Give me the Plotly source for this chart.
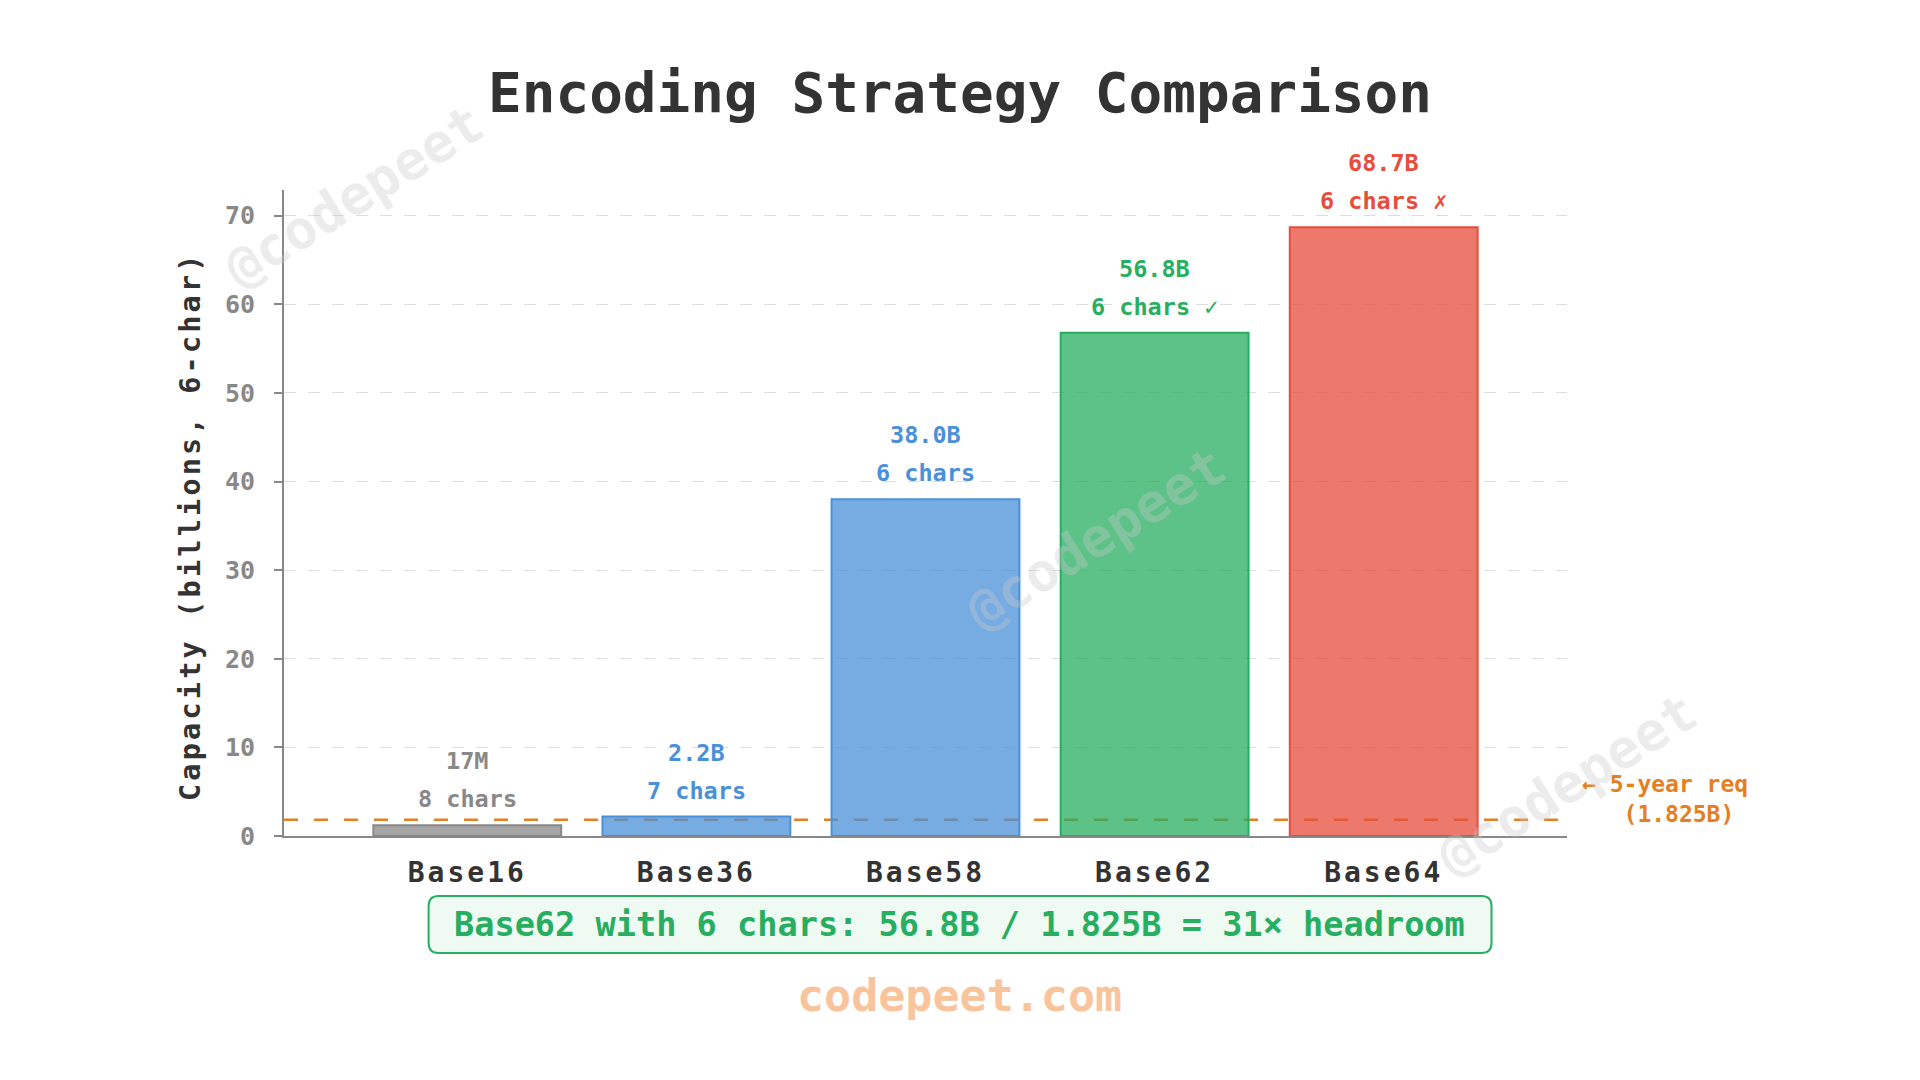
import plotly.graph_objects as go

categories = ["Base16", "Base36", "Base58", "Base62", "Base64"]
capacity_b = [1.2, 2.2, 38.0, 56.8, 68.7]
value_labels = ["17M", "2.2B", "38.0B", "56.8B", "68.7B"]
char_labels = ["8 chars", "7 chars", "6 chars", "6 chars ✓", "6 chars ✗"]
base_colors = ["#888888", "#4a90d9", "#4a90d9", "#27ae60", "#e74c3c"]
requirement_b = 1.825
y_ticks = [0, 10, 20, 30, 40, 50, 60, 70]

FONT = "DejaVu Sans Mono"


def rgba(hex_color, a):
    h = hex_color.lstrip("#")
    r, g, b = int(h[0:2], 16), int(h[2:4], 16), int(h[4:6], 16)
    return f"rgba({r},{g},{b},{a})"


def spaced(text, px):
    return f'<span style="letter-spacing:{px}px">{text}</span>'


fig = go.Figure()
fig.add_trace(go.Bar(
    x=categories,
    y=capacity_b,
    width=0.82,
    marker=dict(color=[rgba(c, 0.75) for c in base_colors],
                line=dict(color=base_colors, width=2)),
    hoverinfo="skip",
    showlegend=False,
))

annotations = []
for cat, val, vl, cl, col in zip(categories, capacity_b, value_labels, char_labels, base_colors):
    annotations.append(dict(x=cat, y=val, xref="x", yref="y", text=vl, showarrow=False,
                            yanchor="middle", yshift=64,
                            font=dict(family=FONT, size=23.5, color=col, weight=700)))
    annotations.append(dict(x=cat, y=val, xref="x", yref="y", text=cl, showarrow=False,
                            yanchor="middle", yshift=26,
                            font=dict(family=FONT, size=23.5, color=col, weight=700)))

# requirement annotation
annotations.append(dict(xref="paper", x=(1580 - 284) / 1283, y=requirement_b, yref="y", yshift=21,
                        text="← 5-year req<br>&nbsp;&nbsp;&nbsp;(1.825B)", showarrow=False,
                        align="left", xanchor="left", yanchor="middle",
                        font=dict(family=FONT, size=23, color="#e67e22", weight=700)))

# y-axis title
annotations.append(dict(xref="paper", yref="paper", x=(190 - 284) / 1283, y=(836 - 526) / 646,
                        text=spaced("Capacity (billions, 6-char)", 3.2), showarrow=False,
                        textangle=-90, xanchor="center", yanchor="middle",
                        font=dict(family=FONT, size=28.5, color="#333333", weight=700)))

# headroom box text
annotations.append(dict(xref="paper", yref="paper", x=0.5268, y=-0.137,
                        text="Base62 with 6 chars: 56.8B / 1.825B = 31× headroom",
                        showarrow=False, xanchor="center", yanchor="middle",
                        font=dict(family=FONT, size=33.6, color="#27ae60", weight=700)))

# site footer
annotations.append(dict(xref="paper", yref="paper", x=(959 - 284) / 1283, y=(836 - 995) / 646,
                        text="codepeet.com", showarrow=False, xanchor="center", yanchor="middle",
                        font=dict(family=FONT, size=45, color="#f9c39c", weight=700)))

# watermarks
for wx, wy in [(0.0553, 0.991), (0.633, 0.46), (1.0, 0.08)]:
    annotations.append(dict(xref="paper", yref="paper", x=wx, y=wy, text="@codepeet",
                            showarrow=False, textangle=-32, xanchor="center", yanchor="middle",
                            font=dict(family=FONT, size=54, color="rgba(200,200,200,0.35)", weight=700)))

# rounded box for headroom note
x0, x1 = (428.6 - 284) / 1283, (1491.5 - 284) / 1283
y0, y1 = (836 - 953) / 646, (836 - 896) / 646
rx, ry = 10 / 1283, 10 / 646
path = (f"M {x0+rx},{y1} L {x1-rx},{y1} Q {x1},{y1} {x1},{y1-ry} "
        f"L {x1},{y0+ry} Q {x1},{y0} {x1-rx},{y0} L {x0+rx},{y0} "
        f"Q {x0},{y0} {x0},{y0+ry} L {x0},{y1-ry} Q {x0},{y1} {x0+rx},{y1} Z")

shapes = [
    dict(type="line", xref="paper", x0=0, x1=1, yref="y", y0=requirement_b, y1=requirement_b,
         line=dict(color="#e67e22", width=2.5, dash="14px,16px"), layer="below"),
    dict(type="path", xref="paper", yref="paper", path=path,
         fillcolor="#effaf3", line=dict(color="#27ae60", width=2), layer="above"),
]

fig.update_layout(
    width=1920, height=1080,
    paper_bgcolor="white", plot_bgcolor="white",
    margin=dict(l=284, r=353, t=190, b=244),
    title=dict(text="Encoding Strategy Comparison", x=0.5, xref="container", xanchor="center",
               y=1 - 92 / 1080, yref="container", yanchor="middle",
               font=dict(family=FONT, size=56, color="#333333", weight=700)),
    xaxis=dict(range=[-0.8, 4.8], showline=True, linecolor="#888888", linewidth=2,
               ticks="", showgrid=False, zeroline=False,
               tickmode="array", tickvals=categories,
               ticktext=[spaced(c, 3) for c in categories],
               ticklabelstandoff=10,
               tickfont=dict(family=FONT, size=28, color="#333333", weight=700)),
    yaxis=dict(range=[0, 72.9], showline=True, linecolor="#888888", linewidth=2,
               ticks="outside", ticklen=8, tickcolor="#888888", tickwidth=2,
               tickvals=y_ticks, showgrid=True, gridcolor="#dddddd", gridwidth=1.2,
               griddash="12px,12px", zeroline=False,
               ticklabelstandoff=14,
               tickfont=dict(family=FONT, size=25, color="#888888", weight=700)),
    annotations=annotations,
    shapes=shapes,
    bargap=0.18,
)

fig.write_html("out.html")
